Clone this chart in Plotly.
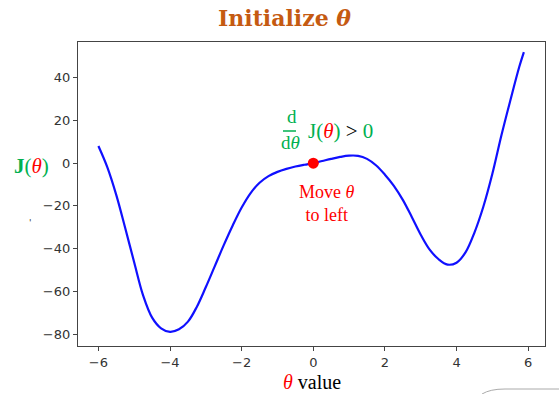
import plotly.graph_objects as go

# ---- data ----
theta = [-6.0, -5.75, -5.5, -5.25, -5.0, -4.75, -4.5, -4.25, -4.0, -3.75, -3.5, -3.25,
         -3.0, -2.75, -2.5, -2.25, -2.0, -1.75, -1.5, -1.25, -1.0, -0.75, -0.5, -0.25,
         0.0, 0.25, 0.5, 0.75, 1.0, 1.25, 1.5, 1.75, 2.0, 2.25, 2.5, 2.75, 3.0, 3.25,
         3.5, 3.75, 4.0, 4.25, 4.5, 4.75, 5.0, 5.25, 5.5, 5.75, 5.88]
cost = [8.0, -2.0, -15.0, -30.5, -46.5, -62.0, -72.3, -77.3, -79.0, -77.8, -74.2, -67.2,
        -58.0, -48.2, -38.4, -29.2, -20.8, -14.0, -9.2, -6.1, -4.1, -2.7, -1.6, -0.75,
        0.0, 1.0, 2.0, 2.9, 3.5, 3.4, 2.0, -1.0, -5.4, -10.6, -17.2, -25.2, -33.5, -40.5,
        -45.0, -47.5, -46.6, -41.8, -32.5, -20.3, -5.0, 12.8, 29.2, 45.0, 52.0]
init_theta = [0.0]
init_cost = [0.0]
x_ticks = [-6, -4, -2, 0, 2, 4, 6]
y_ticks = [-80, -60, -40, -20, 0, 20, 40]

W, H = 559, 394
L, R, T, B = 78, 14, 42, 48
PW, PH = W - L - R, H - T - B

def px(xp):
    return (xp - L) / PW

def py(yp):
    return (H - B - yp) / PH

GREEN = "#00B050"
RED = "#FF0000"
SERIF = "Liberation Serif"

fig = go.Figure()
fig.add_trace(go.Scatter(x=theta, y=cost, mode="lines",
                         line=dict(color="#1010FF", width=2.2, shape="spline", smoothing=1.0),
                         hoverinfo="skip", showlegend=False))
fig.add_trace(go.Scatter(x=init_theta, y=init_cost, mode="markers",
                         marker=dict(color=RED, size=11), showlegend=False))

axis_common = dict(showgrid=False, zeroline=False, showline=True, mirror=True,
                   linecolor="#444", linewidth=1.3, ticks="outside", ticklen=4,
                   tickcolor="#444", tickfont=dict(family="DejaVu Sans", size=13, color="#333"))
fig.update_xaxes(range=[-6.57, 6.47], tickvals=x_ticks, **axis_common)
fig.update_yaxes(range=[-85.6, 56.7], tickvals=y_ticks, **axis_common)

ann = []
# fraction d/dθ
ann.append(dict(x=px(292), y=py(116), text="d", font=dict(family=SERIF, size=19, color=GREEN)))
ann.append(dict(x=px(290), y=py(142), text="d<i>θ</i>", font=dict(family=SERIF, size=19, color=GREEN)))
ann.append(dict(x=px(306), y=py(131), xanchor="left",
                text="J(<i><span style='color:#FF0000'>θ</span></i>) <span style='color:#000'>&gt;</span> 0",
                font=dict(family=SERIF, size=21, color=GREEN)))
# move theta
ann.append(dict(x=px(327), y=py(203), text="Move <i>θ</i><br>to left",
                font=dict(family=SERIF, size=18, color=RED)))
# y label
ann.append(dict(x=px(31), y=py(166),
                text="<b>J</b>(<i><span style='color:#FF0000'>θ</span></i>)",
                font=dict(family=SERIF, size=21, color=GREEN)))
# x label
ann.append(dict(x=px(312), y=py(382),
                text="<i><span style='color:#FF0000'>θ</span></i> value",
                font=dict(family=SERIF, size=20, color="#000")))
# tiny mark
ann.append(dict(x=px(30), y=py(223), text="'", font=dict(family="DejaVu Sans", size=9, color="#333")))

for a in ann:
    a.update(xref="paper", yref="paper", showarrow=False)
    a.setdefault("xanchor", "center")
    a.setdefault("yanchor", "middle")

shapes = [
    dict(type="line", xref="paper", yref="paper", x0=px(283), x1=px(296), y0=py(131), y1=py(131),
         line=dict(color=GREEN, width=1.5)),
    dict(type="path", xref="paper", yref="paper",
         path=f"M {px(482)} {py(394)} Q {px(490)} {py(389)} {px(505)} {py(389)} L {px(559)} {py(389)}",
         line=dict(color="#AAAAAA", width=1)),
]

fig.update_layout(
    width=W, height=H, margin=dict(l=L, r=R, t=T, b=B),
    paper_bgcolor="white", plot_bgcolor="white",
    title=dict(text="<b>Initialize <i>θ</i></b>", x=284.5 / W, xanchor="center",
               y=1 - 18 / H, yanchor="middle",
               font=dict(family="DejaVu Serif", size=22, color="#C55A11")),
    annotations=ann, shapes=shapes,
)

fig.write_html("out.html")
